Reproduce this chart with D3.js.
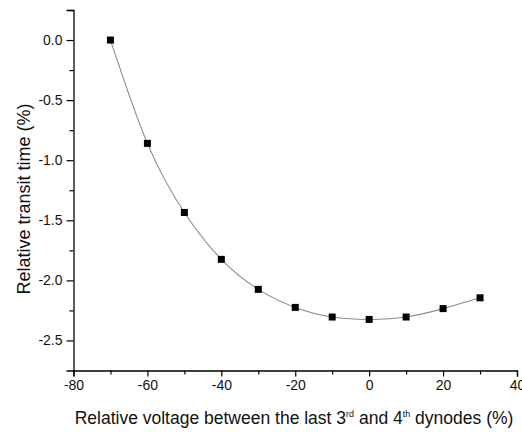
<!DOCTYPE html>
<html>
<head>
<meta charset="utf-8">
<script src="https://cdn.jsdelivr.net/npm/d3@7"></script>
<style>
  html, body { margin: 0; padding: 0; background: #fff; }
  svg { display: block; font-family: Arial, "Liberation Sans", sans-serif; }
</style>
</head>
<body>
<svg id="chart" width="522" height="432"></svg>
<script>
const voltage = [-70, -60, -50, -40, -30, -20, -10, 0, 10, 20, 30];
const transitTime = [0.0, -0.86, -1.435, -1.825, -2.075, -2.225, -2.305, -2.325, -2.305, -2.235, -2.145];
const xTicks = [-80, -60, -40, -20, 0, 20, 40];
const xMinorTicks = [-70, -50, -30, -10, 10, 30];
const yTicks = [0.0, -0.5, -1.0, -1.5, -2.0, -2.5];
const yMinorTicks = [0.25, -0.25, -0.75, -1.25, -1.75, -2.25];

const svg = d3.select("#chart");
const x = d3.scaleLinear().domain([-80, 40]).range([73.5, 517]);
const y = d3.scaleLinear().domain([-2.75, 0.25]).range([370.5, 10]);

const fmtY = d3.format(".1f");
const fmt = v => (v < 0 ? "-" : "") + fmtY(Math.abs(v));

// x axis
svg.append("g").attr("transform", `translate(0,${y(-2.75)})`)
  .call(d3.axisBottom(x).tickValues(xTicks).tickSize(6).tickPadding(4).tickFormat(d => (d < 0 ? "-" : "") + Math.abs(d)));
svg.append("g").attr("transform", `translate(0,${y(-2.75)})`)
  .call(d3.axisBottom(x).tickValues(xMinorTicks).tickSize(4).tickFormat(""))
  .select(".domain").remove();

// y axis
svg.append("g").attr("transform", `translate(${x(-80)},0)`)
  .call(d3.axisLeft(y).tickValues(yTicks).tickSize(7).tickPadding(4).tickFormat(fmt));
svg.append("g").attr("transform", `translate(${x(-80)},0)`)
  .call(d3.axisLeft(y).tickValues(yMinorTicks).tickSize(4).tickFormat(""))
  .select(".domain").remove();

svg.selectAll(".domain").attr("stroke", "#000").attr("stroke-width", 1.3);
svg.selectAll(".tick line").attr("stroke", "#000").attr("stroke-width", 1.2);
svg.selectAll(".tick text").attr("font-size", 14).attr("fill", "#111")
  .attr("font-family", "Arial, 'Liberation Sans', sans-serif");

// line
const pts = voltage.map((v, i) => [v, transitTime[i]]);
svg.append("path")
  .datum(pts)
  .attr("fill", "none")
  .attr("stroke", "#8a8a8a")
  .attr("stroke-width", 1.1)
  .attr("d", d3.line().x(d => x(d[0])).y(d => y(d[1])).curve(d3.curveNatural));

// markers
const s = 7;
svg.selectAll("rect.pt").data(pts).enter().append("rect")
  .attr("class", "pt")
  .attr("x", d => x(d[0]) - s / 2)
  .attr("y", d => y(d[1]) - s / 2)
  .attr("width", s).attr("height", s)
  .attr("fill", "#000");

// y title
svg.append("text")
  .attr("transform", `translate(30,199) rotate(-90)`)
  .attr("text-anchor", "middle")
  .attr("font-size", 18)
  .attr("fill", "#111")
  .text("Relative transit time (%)");

// x title
const xt = svg.append("text")
  .attr("x", 294).attr("y", 424)
  .attr("text-anchor", "middle")
  .attr("font-size", 17.5)
  .attr("fill", "#111");
xt.append("tspan").text("Relative voltage between the last 3");
xt.append("tspan").attr("font-size", 9).attr("dy", -7).text("rd");
xt.append("tspan").attr("dy", 7).text(" and 4");
xt.append("tspan").attr("font-size", 9).attr("dy", -7).text("th");
xt.append("tspan").attr("dy", 7).text(" dynodes (%)");
</script>
</body>
</html>
